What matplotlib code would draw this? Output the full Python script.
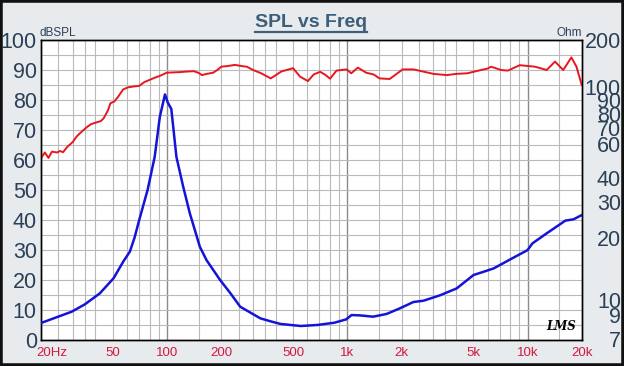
import numpy as np
import matplotlib
matplotlib.use('Agg')
import matplotlib.pyplot as plt
from matplotlib.transforms import ScaledTranslation, blended_transform_factory, IdentityTransform
from matplotlib.ticker import NullFormatter, NullLocator
from matplotlib.patches import Rectangle
from matplotlib.lines import Line2D

plt.rcParams['font.family'] = ['Liberation Sans', 'DejaVu Sans']

# ---- data ----
spl_freq = [20.2, 21, 22, 23, 24.5, 25.5, 26.5, 28, 30, 31.5, 33, 36, 38, 40, 43, 44.5,
            47, 48.5, 51, 53.6, 57, 60.6, 65, 70, 75, 80, 86, 91, 99.5, 108, 118, 130,
            141, 150, 156, 166, 180, 190, 200, 215, 238, 260, 277, 300, 330, 376, 430,
            500, 546, 604, 650, 706, 750, 802, 870, 990, 1051, 1143, 1271, 1400, 1508,
            1715, 2026, 2328, 3004, 3566, 4000, 4625, 5510, 6000, 6263, 7123, 7765, 9025,
            10980, 12740, 14170, 15740, 17460, 18640, 19930]
spl_db = [61, 62.5, 60.7, 62.8, 62.5, 63, 62.6, 64.4, 66, 67.8, 69, 71, 72, 72.4, 73, 73.9,
          76.5, 78.9, 79.5, 81.1, 83.5, 84.2, 84.5, 84.7, 86, 86.7, 87.5, 88, 89.1, 89.2, 89.3, 89.5,
          89.6, 89, 88.3, 88.7, 89.1, 90, 91.1, 91.3, 91.7, 91.3, 91.1, 90, 89, 87.2, 89.5,
          90.6, 87.8, 86.3, 88.5, 89.4, 88.5, 87.1, 89.8, 90.2, 88.9, 90.8, 89.1, 88.5, 87.2,
          87, 90.2, 90.2, 88.7, 88.3, 88.7, 88.9, 90, 90.5, 91.1, 90, 89.8, 91.6,
          91.1, 90, 92.8, 90, 94.2, 91.1, 85]

imp_freq = [20.2, 24.9, 29.6, 35, 42.4, 50.5, 57.3, 62.2, 66, 70.1, 78, 85.4, 91.2, 97.4,
            101, 105.6, 112.7, 122.8, 133.7, 152.1, 165.7, 196.8, 224, 254.5, 329, 375, 426, 551,
            682, 846, 985, 1054, 1170, 1388, 1650, 1958, 2324, 2642, 3259, 4037, 5007,
            5584, 6482, 8040, 9970, 10630, 12740, 16170, 17970, 19930]
imp_ohm = [7.87, 8.44, 8.94, 9.73, 11.05, 13.15, 16.0, 17.9, 21, 25.8, 36.5, 53.5, 85, 110,
           100, 93, 53.5, 38, 27.9, 18.9, 16.2, 12.9, 11.1, 9.47, 8.28, 8.0, 7.76, 7.58,
           7.67, 7.87, 8.18, 8.6, 8.57, 8.44, 8.71, 9.3, 10, 10.15, 10.8, 11.7, 13.66,
           14.1, 14.75, 16.4, 18.2, 19.7, 22.1, 25.6, 26, 27.3]

x_ticks = [20, 50, 100, 200, 500, 1000, 2000, 5000, 10000, 20000]
x_tick_labels = ['20Hz', '50', '100', '200', '500', '1k', '2k', '5k', '10k', '20k']
db_ticks = [0, 10, 20, 30, 40, 50, 60, 70, 80, 90, 100]
ohm_ticks = [200, 100, 90, 80, 70, 60, 40, 30, 20, 10, 9, 7]
ohm_label_shift_px = [0, -13, -9, -6, -3, 0, -2, -2, -2, 0, 6, 9]

W, H = 624, 366
fig = plt.figure(figsize=(W / 100, H / 100), dpi=100)
fig.patch.set_facecolor('#e8ebee')

ax = fig.add_axes([41 / W, 1 - 340 / H, 541 / W, 300 / H])
ax.set_facecolor('white')
ax.set_xscale('log')
ax.set_xlim(20, 20000)
ax.set_ylim(0, 100)

# grid
minor_mults = [1.5, 2, 2.5, 3, 3.5, 4, 5, 6, 7, 8, 9]
for dec in [10, 100, 1000, 10000]:
    for m in minor_mults:
        f = dec * m
        if 20 < f < 20000:
            ax.axvline(f, color='#bababa', lw=0.8, zorder=0)
for f in [100, 1000, 10000]:
    ax.axvline(f, color='#8a8a8a', lw=1.0, zorder=0)
for y in range(5, 100, 5):
    ax.axhline(y, color='#bababa', lw=0.8, zorder=0)

ax2 = ax.twinx()
ax2.set_yscale('log')
ax2.set_ylim(6.447, 206.3)

ax.plot(spl_freq, spl_db, color='#e8161e', lw=1.4, zorder=3)
ax2.plot(imp_freq, imp_ohm, color='#1414d8', lw=1.8, zorder=3)

# axes styling
for a in (ax, ax2):
    for s in a.spines.values():
        s.set_color('black')
        s.set_linewidth(1.0)

ax.xaxis.set_minor_locator(NullLocator())
ax.xaxis.set_minor_formatter(NullFormatter())
ax.set_xticks(x_ticks, x_tick_labels)
ax.tick_params(axis='x', length=0, pad=5, labelsize=9.5, labelcolor='#d2173f')
ax.set_yticks(db_ticks)
ax.tick_params(axis='y', length=0, pad=3, labelsize=15.5, labelcolor='#2b4058')
lab0 = ax.get_xticklabels()[0]
lab0.set_ha('left')
lab0.set_transform(lab0.get_transform() + ScaledTranslation(-5 / 100, 0, fig.dpi_scale_trans))

ax2.yaxis.set_minor_locator(NullLocator())
ax2.yaxis.set_minor_formatter(NullFormatter())
ax2.set_yticks([])
trans_r = blended_transform_factory(ax2.transAxes, ax2.transData)
for v, sh in zip(ohm_ticks, ohm_label_shift_px):
    ax2.text(1.0, v, str(v), transform=trans_r + ScaledTranslation(39 / 100, -sh / 100, fig.dpi_scale_trans),
             ha='right', va='center', fontsize=15.5, color='#2b4058', clip_on=False)

# axis unit labels
fig.text(39 / W, 1 - 36 / H, 'dBSPL', fontsize=8.5, color='#2b4058', ha='left', va='baseline')
fig.text(582 / W, 1 - 36 / H, 'Ohm', fontsize=8.5, color='#2b4058', ha='right', va='baseline')

# title with underline
t = fig.text(311 / W, 1 - 27 / H, 'SPL vs Freq', fontsize=14, fontweight='bold',
             color='#3d5f7a', ha='center', va='baseline')
fig.canvas.draw()
bb = t.get_window_extent()
yl = H - 31.5
fig.add_artist(Line2D([bb.x0, bb.x1], [yl, yl], transform=IdentityTransform(),
                      color='#3d5f7a', lw=1.6))

# logo
fig.text(561 / W, 1 - 327 / H, 'LMS', fontsize=8.5, fontstyle='italic', fontweight='bold',
         color='black', ha='center', va='center', family='DejaVu Serif')

# black frame
fig.add_artist(Rectangle((0, 0), 1, 1, transform=fig.transFigure, fill=False,
                         ec='#111111', lw=4))

fig.savefig('out.png', dpi=100, facecolor=fig.get_facecolor())
